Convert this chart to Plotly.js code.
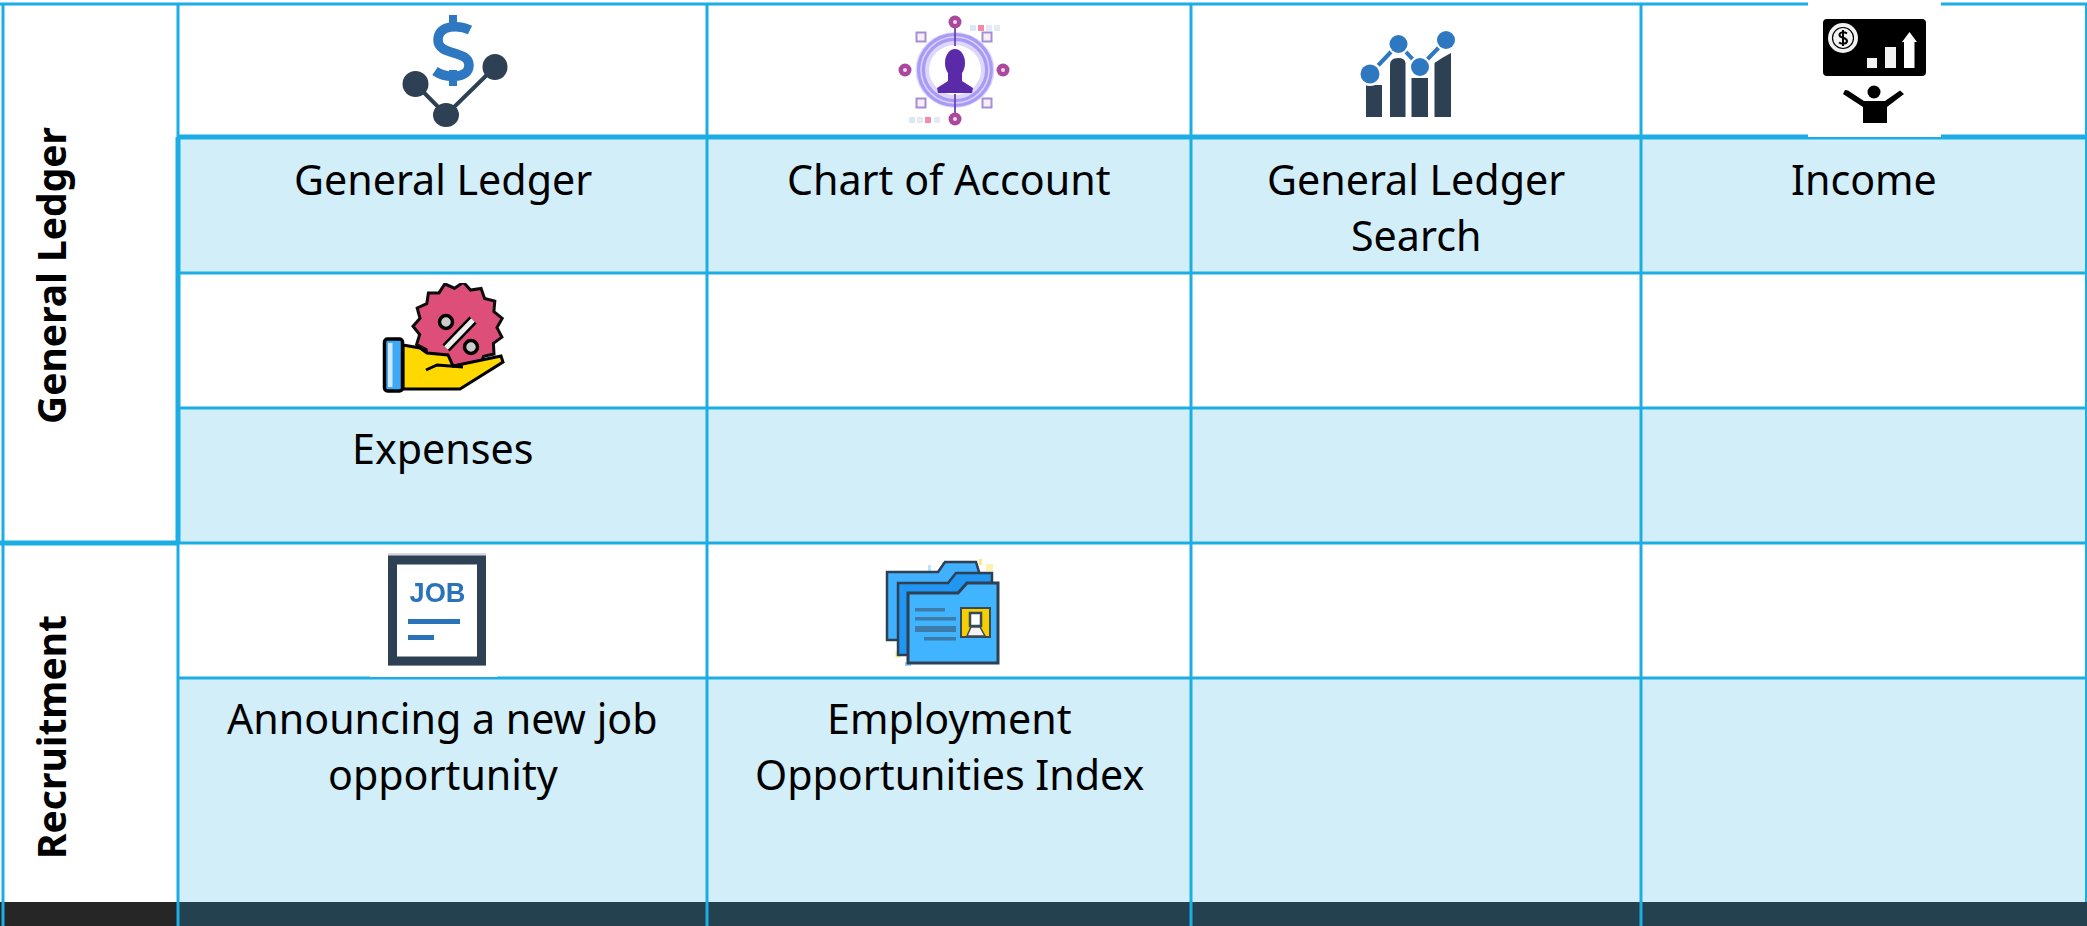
<!DOCTYPE html>
<html><head><meta charset="utf-8">
<script src="https://cdn.plot.ly/plotly-3.0.0.min.js"></script>
<style>html,body{margin:0;padding:0;background:#fff;overflow:hidden}#c{width:2087px;height:926px}</style>
</head><body><div id="c"></div>
<script>
// ---- content ----
const groupLabels = ['General Ledger', 'Recruitment'];
const cellLabels = [
  ['General Ledger'], ['Chart of Account'], ['General Ledger', 'Search'], ['Income'],
  ['Expenses'], [], [], [],
  ['Announcing a new job', 'opportunity'], ['Employment', 'Opportunities Index'], [], []
];
// band classes per row: 0 white, 1 light blue, 2 dark band, 3 near-black band
const firstColumnBands = [0, 0, 0, 0, 0, 0, 3];
const otherColumnBands = [0, 1, 0, 1, 0, 1, 2];

// ---- layout grid ----
const colEdges = [0, 178, 707, 1191, 1641, 2087];
const rowEdges = [0, 137, 273, 408, 543, 678, 902, 926];
const W = 2087, H = 926;

const BLUE = '#1cade4', NAVY = '#2e3f52', DOLLAR = '#2e78c2';

function svg(w, h, body, bg) {
  const s = `<svg xmlns="http://www.w3.org/2000/svg" width="${w}" height="${h}" viewBox="0 0 ${w} ${h}">` +
    `<defs><filter id="b" x="-5%" y="-5%" width="110%" height="110%"><feGaussianBlur stdDeviation="0.6"/></filter></defs>` +
    (bg ? `<rect width="${w}" height="${h}" fill="#fff"/>` : '') +
    `<g filter="url(#b)">${body}</g></svg>`;
  return 'data:image/svg+xml;charset=utf-8,' + encodeURIComponent(s);
}

// Icon 1: dollar over network  (origin 400,10)
const iconLedger = svg(110, 120, `
 <path d="M53 5V20M53 60V76" stroke="${DOLLAR}" stroke-width="8"/>
 <path d="M70 20C60 15 38 14 38 30C38 46 69 40 69 55C69 70 45 68 35 61" fill="none" stroke="${DOLLAR}" stroke-width="9.5"/>
 <path d="M15.5 74L46 105L95 57" fill="none" stroke="${NAVY}" stroke-width="4"/>
 <ellipse cx="15.5" cy="74" rx="13" ry="13" fill="${NAVY}"/>
 <ellipse cx="95" cy="57" rx="12.5" ry="13" fill="${NAVY}"/>
 <ellipse cx="46" cy="105" rx="13" ry="12" fill="${NAVY}"/>`);

// Icon 2: person in rings  (origin 890,5)
const node = (x, y) => `<circle cx="${x}" cy="${y}" r="6.5" fill="#a8489c"/><circle cx="${x}" cy="${y}" r="2" fill="#f3d7ee"/>`;
const sq = (x, y) => `<rect x="${x-4.5}" y="${y-4.5}" width="9" height="9" fill="#f4effb" stroke="#a68fd0" stroke-width="2"/>`;
const tick = (x, y, c) => `<rect x="${x}" y="${y}" width="6" height="6" fill="${c}"/>`;
const iconAccount = svg(130, 124, `
 ${sq(31,32)}${sq(97,32)}${sq(31,98)}${sq(97,98)}
 <ellipse cx="65" cy="65" rx="39.5" ry="38" fill="#ded7fb"/>
 <ellipse cx="65" cy="65" rx="34" ry="33" fill="none" stroke="#a99bf5" stroke-width="8"/>
 <ellipse cx="65" cy="65" rx="34" ry="33" fill="none" stroke="#d8d0fb" stroke-width="1.6"/>
 <ellipse cx="65" cy="65" rx="26" ry="25" fill="#fff"/>
 <path d="M65 17V41M65 89V113" stroke="#6b45b5" stroke-width="1.8"/>
 <ellipse cx="65" cy="58" rx="10" ry="14" fill="#5a2ca8"/>
 <path d="M58 66H72V76L83 83L82 88H48L47 83L58 76Z" fill="#5a2ca8"/>
 ${node(65,17)}${node(65,114)}${node(15,65)}${node(113,65)}
 ${tick(80,20,'#dbe7f5')}${tick(88,20,'#f58aa8')}${tick(96,20,'#e2ecf7')}${tick(104,20,'#e2ecf7')}
 ${tick(19,112,'#dbe7f5')}${tick(27,112,'#e2ecf7')}${tick(35,112,'#f58aa8')}${tick(44,112,'#e2ecf7')}`);

// Icon 3: bars with trend line  (origin 1355,25)
const iconTrend = svg(105, 100, `
 <path d="M11 60H27V92H11Z" fill="${NAVY}"/>
 <path d="M35 40Q35 33 43 33Q50 33 50.5 38V92H35Z" fill="${NAVY}"/>
 <path d="M56.5 53H73V92H56.5Z" fill="${NAVY}"/>
 <path d="M79.5 38Q88 32 96 28V92H79.5Z" fill="${NAVY}"/>
 <path d="M15 49L43.5 19L65 42L91 15" fill="none" stroke="#fff" stroke-width="8"/>
 <path d="M15 49L43.5 19L65 42L91 15" fill="none" stroke="${DOLLAR}" stroke-width="4"/>
 <circle cx="15" cy="49" r="12" fill="#fff"/><circle cx="15" cy="49" r="9.5" fill="${DOLLAR}"/>
 <circle cx="43.5" cy="19" r="11" fill="#fff"/><circle cx="43.5" cy="19" r="9" fill="${DOLLAR}"/>
 <circle cx="65" cy="42" r="11" fill="#fff"/><circle cx="65" cy="42" r="9" fill="${DOLLAR}"/>
 <circle cx="91" cy="15" r="11" fill="#fff"/><circle cx="91" cy="15" r="9" fill="${DOLLAR}"/>`);

// Icon 4: income board with white backing  (origin 1808,2)
const iconIncome = svg(133, 135, `
 <rect x="15" y="17" width="103" height="57" rx="4" fill="#000"/>
 <circle cx="35" cy="36" r="15" fill="#f2f2f2"/>
 <circle cx="35" cy="36" r="10.5" fill="none" stroke="#000" stroke-width="1.2"/>
 <path d="M39 31.5C36 29.5 31.5 30 31.5 33C31.5 36.5 39 35 39 39C39 42 34 42.5 31 40.5M35 28V44" fill="none" stroke="#000" stroke-width="2"/>
 <rect x="59" y="56" width="10" height="10" fill="#f2f2f2"/>
 <rect x="77" y="45" width="11" height="21" fill="#f2f2f2"/>
 <path d="M96 66V40H94L101.5 30L109 40H106.5V66Z" fill="#fff"/>
 <circle cx="66" cy="90" r="6.5" fill="#000"/>
 <path d="M37 88L40 88.5L56 99H77L92 88.5L96 92L79 105V121H55V105L35 92Z" fill="#000"/>`, true);

// Icon 5: hand holding discount badge (origin 375,283)
const badgePts = (function () {
  const out = [], cx = 83, cy = 44, n = 15;
  for (let i = 0; i < n * 2; i++) {
    const r = i % 2 ? 39 : 45, a = i * Math.PI / n - 1.45;
    out.push((cx + r * Math.cos(a)).toFixed(1) + ',' + (cy + r * Math.sin(a)).toFixed(1));
  }
  return out.join(' ');
})();
const iconDiscount = svg(140, 115, `
 <polygon points="${badgePts}" fill="#dd5078" stroke="#0c0c0c" stroke-width="3"/>
 <path d="M98 37L71 65" stroke="#000" stroke-width="10"/>
 <path d="M98 37L71 65" stroke="#eee" stroke-width="5"/>
 <circle cx="71" cy="39" r="6.5" fill="#ccc" stroke="#000" stroke-width="3.5"/>
 <circle cx="96" cy="64" r="6.5" fill="#ccc" stroke="#000" stroke-width="3.5"/>
 <path d="M28 62L45 65L52 70L73 72L78 83L126 73L128 79L85 106H28Z" fill="#ffd800" stroke="#000" stroke-width="3"/>
 <path d="M51 87L62 82L88 84" fill="none" stroke="#000" stroke-width="3"/>
 <rect x="9.5" y="56" width="18" height="52" rx="3" fill="#3fa9f5" stroke="#000" stroke-width="3.5"/>
 <rect x="13" y="60" width="4.5" height="44" fill="#cfe9fb"/>`);

// Icon 6: job sheet, white backing (origin 370,545)
const iconJob = svg(127, 132, `
 <rect x="18" y="8" width="98" height="113" fill="#d7d9dc"/>
 <rect x="22.5" y="15" width="89" height="101" fill="#fff" stroke="${NAVY}" stroke-width="9"/>
 <text x="67.5" y="57" font-family="Liberation Sans, DejaVu Sans" font-weight="700" font-size="27" text-anchor="middle" textLength="56" lengthAdjust="spacingAndGlyphs" fill="#2a73b8">JOB</text>
 <rect x="38" y="74" width="52" height="5" fill="#2a73b8"/>
 <rect x="38" y="90" width="26" height="5" fill="#2a73b8"/>`, true);

// Icon 7: stacked folders (origin 880,555)
const iconFolder = svg(125, 115, `
 <rect x="48" y="10" width="3" height="8" fill="#bde4ff"/>
 <rect x="62" y="7" width="6" height="8" fill="#bde4ff"/>
 <rect x="99" y="4" width="3" height="6" fill="#ffe680"/>
 <rect x="106" y="9" width="7" height="7" fill="#fff2b0"/>
 <rect x="15" y="96" width="6" height="7" fill="#fff2b0"/>
 <rect x="25" y="107" width="6" height="4" fill="#8fd4ff"/>
 <path d="M7 17H58L65 7H96L99 17V85H7Z" fill="#40b0ff" stroke="${NAVY}" stroke-width="2.5"/>
 <path d="M18 28H68L76 18H112V100H18Z" fill="#2196f3" stroke="${NAVY}" stroke-width="2.5"/>
 <path d="M28 38H78L87 28H118V108H28Z" fill="#40b4ff" stroke="${NAVY}" stroke-width="3"/>
 <rect x="35" y="53" width="30" height="3.5" fill="#3d7ba8"/>
 <rect x="35" y="62" width="41" height="3.5" fill="#3d7ba8"/>
 <rect x="35" y="71" width="41" height="6" fill="#3d7ba8"/>
 <rect x="44" y="82" width="32" height="3.5" fill="#3d7ba8"/>
 <rect x="81" y="53" width="29" height="29" fill="#f5cf00" stroke="#3b4a57" stroke-width="2"/>
 <rect x="90" y="58" width="11" height="13" fill="#fff" stroke="#3b4a57" stroke-width="2.5"/>
 <path d="M87 81L91 72H100L105 81Z" fill="#f4f4f4" stroke="#3b4a57" stroke-width="1.5"/>`);

const iconImages = [
  {source: iconLedger,   x: 400,  y: 10,  sizex: 110, sizey: 120},
  {source: iconAccount,  x: 890,  y: 5,   sizex: 130, sizey: 124},
  {source: iconTrend,    x: 1355, y: 25,  sizex: 105, sizey: 100},
  {source: iconIncome,   x: 1808, y: 2,   sizex: 133, sizey: 135},
  {source: iconDiscount, x: 375,  y: 283, sizex: 140, sizey: 115},
  {source: iconJob,      x: 370,  y: 545, sizex: 127, sizey: 132},
  {source: iconFolder,   x: 880,  y: 555, sizex: 125, sizey: 115}
].map(im => Object.assign(im, {xref: 'x', yref: 'y', xanchor: 'left', yanchor: 'top', sizing: 'stretch', layer: 'above'}));

// ---- cell fills: heatmap bricks on the layout grid ----
const z = firstColumnBands.map((b, r) => [b, otherColumnBands[r], otherColumnBands[r], otherColumnBands[r], otherColumnBands[r]]);
const fills = {
  type: 'heatmap', x: colEdges, y: rowEdges, z: z, zmin: 0, zmax: 3, showscale: false, hoverinfo: 'skip',
  colorscale: [[0, '#ffffff'], [0.33, '#ffffff'], [0.33, '#d2eef9'], [0.5, '#d2eef9'], [0.5, '#24414f'], [0.83, '#24414f'], [0.83, '#262626'], [1, '#262626']]
};

// ---- rules ----
function rule(xs, ys, width) {
  return {type: 'scatter', mode: 'lines', x: xs, y: ys, hoverinfo: 'skip', showlegend: false, cliponaxis: true,
          connectgaps: false, line: {color: BLUE, width: width, shape: 'linear'}};
}
const thinRules = rule(
  [0, W, null, colEdges[1], W, null, colEdges[1], W, null, colEdges[1], W, null, colEdges[1], W, null,
   3, 3, null, colEdges[1], colEdges[1], null, colEdges[2], colEdges[2], null, colEdges[3], colEdges[3], null, colEdges[4], colEdges[4]],
  [4, 4, null, rowEdges[2], rowEdges[2], null, rowEdges[3], rowEdges[3], null, rowEdges[4], rowEdges[4], null, rowEdges[5], rowEdges[5], null,
   3, H, null, 3, H, null, 3, H, null, 3, H, null, 3, H], 3);
const rightRule = rule([2086, 2086], [3, rowEdges[6]], 2);
const thickRules = rule(
  [colEdges[1], W, null, colEdges[1], colEdges[1], null, 0, colEdges[1]],
  [rowEdges[1], rowEdges[1], null, rowEdges[1], rowEdges[4], null, rowEdges[4], rowEdges[4]], 5);

// ---- text ----
const annotations = [];
const FONT = 'Noto Sans, Open Sans, sans-serif';
const colCenter = c => (colEdges[c + 1] + colEdges[c + 2]) / 2;
const textRowTop = [138.5, 408, 678];
cellLabels.forEach((lines, i) => {
  const c = i % 4, r = Math.floor(i / 4);
  lines.forEach((t, k) => annotations.push({
    xref: 'x', yref: 'y', x: colCenter(c), y: textRowTop[r] + 40 + k * 56, text: t, showarrow: false,
    xanchor: 'center', yanchor: 'middle', font: {family: FONT, size: 41.2, color: '#000'}
  }));
});
[[groupLabels[0], 276], [groupLabels[1], 737]].forEach(([t, y]) => annotations.push({
  xref: 'x', yref: 'y', x: 50, y: y, text: '<b>' + t + '</b>', textangle: -90, showarrow: false,
  xanchor: 'center', yanchor: 'middle', font: {family: FONT, size: 39, color: '#000'}
}));

Plotly.newPlot('c', [fills, thinRules, rightRule, thickRules], {
  width: W, height: H, margin: {l: 0, r: 0, t: 0, b: 0, pad: 0},
  paper_bgcolor: '#fff', plot_bgcolor: '#fff', showlegend: false, hovermode: false,
  xaxis: {range: [0, W], visible: false, fixedrange: true},
  yaxis: {range: [H, 0], visible: false, fixedrange: true},
  images: iconImages, annotations: annotations
}, {displayModeBar: false, staticPlot: true});
</script></body></html>
